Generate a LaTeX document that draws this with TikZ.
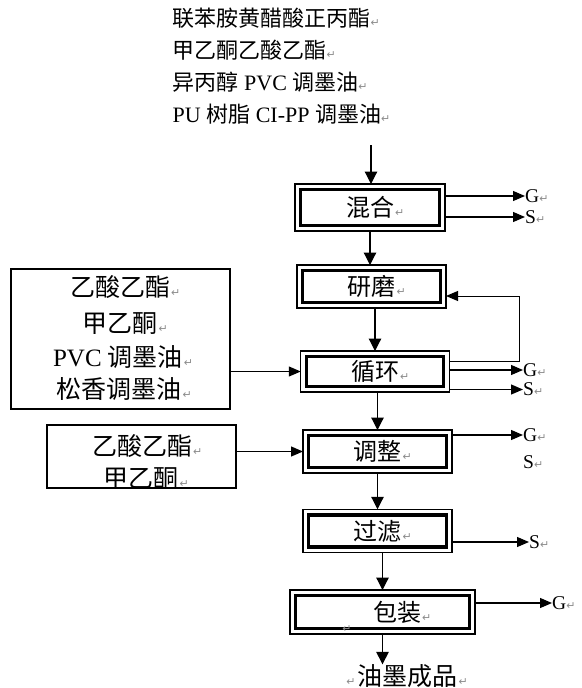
\documentclass[tikz,border=0pt]{standalone}
\usepackage{fontspec}
\setmainfont{Liberation Serif}
\newfontfamily\cjk{Noto Sans CJK SC}
\newfontfamily\djv{DejaVu Sans}
\usetikzlibrary{arrows.meta,calc}
\newcommand\zh[1]{{\cjk #1}}
\newcommand\ret{{\djv\fontsize{11}{11}\selectfont\color{black!45}↵}}
\newcommand\rret{\rlap{\hspace{1pt}\ret}}
\begin{document}
\begin{tikzpicture}[x=1pt,y=-1pt,
  arr/.style={draw, line width=1.2pt, -{Triangle[length=12pt,width=10pt]}},
  varr/.style={draw, line width=1.2pt, -{Triangle[length=12.5pt,width=12.5pt]}},
  stepbox/.style={draw, line width=1.2pt, inner sep=0pt, outer sep=0pt,
    font=\cjk\fontsize{24}{24}\selectfont,
    path picture={\draw[line width=3.2pt]
      ([shift={(5.8pt,5.8pt)}]path picture bounding box.south west) rectangle
      ([shift={(-5.8pt,-5.8pt)}]path picture bounding box.north east);}},
  inbox/.style={draw, line width=1.1pt, inner sep=0pt, outer sep=0pt},
  tline/.style={inner sep=0pt, anchor=base west, font=\fontsize{22}{22}\selectfont},
  bline/.style={inner sep=0pt, anchor=base, font=\fontsize{25}{25}\selectfont},
  lab/.style={inner sep=0pt, anchor=west, font=\fontsize{19.5}{19.5}\selectfont},
]
\path[fill=white] (0,0) rectangle (581,688);
\useasboundingbox (0,0) rectangle (581,688);

% source list
\node[tline] (s1) at (172.5,26.9) {\zh{联苯胺黄醋酸正丙酯}\ret};
\node[tline] (s2) at (172.5,58.9) {\zh{甲乙酮乙酸乙酯}\ret};
\node[tline] (s3) at (172.5,90.9) {\zh{异丙醇} PVC \zh{调墨油}\ret};
\node[tline] (s4) at (172.5,122.9) {PU \zh{树脂} CI-PP \zh{调墨油}\ret};
\coordinate (topin) at (371,145);

% process boxes
\node[stepbox, minimum width=150pt, minimum height=47pt] (hh) at (370,207.5) {混合\rret};
\node[stepbox, minimum width=149pt, minimum height=43pt] (ym) at (371.5,286.5) {研磨\rret};
\node[stepbox, minimum width=148.5pt, minimum height=41pt] (xh) at (375,371.5) {循环\rret};
\node[stepbox, minimum width=149pt, minimum height=43pt] (tz) at (377.5,451.5) {调整\rret};
\node[stepbox, minimum width=149pt, minimum height=43.5pt] (gl) at (377.5,531) {过滤\rret};
\node[stepbox, minimum width=185pt, minimum height=44pt] (bz) at (382.5,612) {\hspace*{29pt}包装\rret};
\node[inner sep=0pt] (bzr) at (347,629) {\ret};

% input boxes
\node[inbox, minimum width=219pt, minimum height=140pt] (l1) at (120.5,339) {};
\node[bline] (l1a) at (120,296.5) {\zh{乙酸乙酯}\rret};
\node[bline] (l1b) at (120,332.5) {\zh{甲乙酮}\rret};
\node[bline] (l1c) at (118,366.5) {PVC \zh{调墨油}\rret};
\node[bline] (l1d) at (119,398.5) {\zh{松香调墨油}\rret};

\node[inbox, minimum width=189pt, minimum height=63pt] (l2) at (141.5,456.5) {};
\node[bline] (l2a) at (142,455.5) {\zh{乙酸乙酯}\rret};
\node[bline] (l2b) at (141,487.5) {\zh{甲乙酮}\rret};

% product
\node[bline] (prod) at (407.5,685.5) {\llap{\ret\hspace{2pt}}\zh{油墨成品}\rret};

% output labels
\node[lab] (hhG) at (525,196) {G\ret};
\node[lab] (hhS) at (525,217) {S\ret};
\node[lab] (xhG) at (523,370) {G\ret};
\node[lab] (xhS) at (523,389.5) {S\ret};
\node[lab] (tzG) at (523,435) {G\ret};
\node[lab] (tzS) at (523,462) {S\ret};
\node[lab] (glS) at (529,542) {S\ret};
\node[lab] (bzG) at (552,603) {G\ret};

% main flow
\draw[varr] (topin) -- (topin |- hh.north);
\draw[varr] (hh.south) -- (hh.south |- ym.north);
\draw[varr] (xh.north |- ym.south) -- (xh.north);
\draw[varr] (tz.north |- xh.south) -- (tz.north);
\draw[varr] (tz.south) -- (tz.south |- gl.north);
\draw[varr] (bz.north |- gl.south) -- (bz.north);
\draw[varr] (bz.south) -- (bz.south |- prod.north);

% inputs
\draw[arr] (l1.east |- xh.west) -- (xh.west);
\draw[arr] (l2.east |- tz.west) -- (tz.west);

% outputs
\draw[arr] (hh.east |- hhG.west) -- (hhG.west);
\draw[arr] (hh.east |- hhS.west) -- (hhS.west);
\draw[arr] (xh.east |- xhG.west) -- (xhG.west);
\draw[arr] (xh.east |- xhS.west) -- (xhS.west);
\draw[arr] (tz.east |- tzG.west) -- (tzG.west);
\draw[arr] (gl.east |- glS.west) -- (glS.west);
\draw[arr] (bz.east |- bzG.west) -- (bzG.west);

% recycle loop
\coordinate (fbr) at (519,296);
\draw[arr, line width=1pt] ($(xh.north east)+(0,10)$) -| (fbr) -- (fbr -| ym.east);
\end{tikzpicture}
\end{document}
